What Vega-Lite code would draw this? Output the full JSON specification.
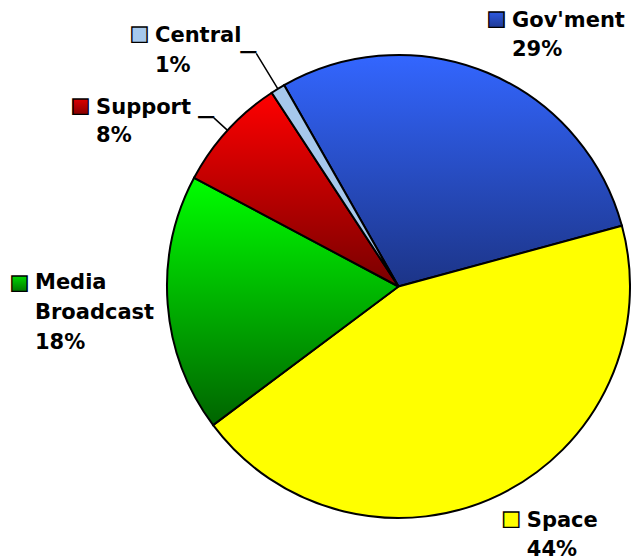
{
  "$schema": "https://vega.github.io/schema/vega-lite/v6.json",
  "width": 463,
  "height": 463,
  "autosize": {"type": "none"},
  "padding": {"left": 167, "top": 55, "right": 1, "bottom": 42},
  "background": "white",
  "config": {"view": {"stroke": null}},
  "data": {
    "values": [
      {"cat": "Gov'ment", "pct": 29, "label": "Gov'ment\n29%", "k": 1},
      {"cat": "Space", "pct": 44, "label": "Space\n44%", "k": 2},
      {"cat": "Media Broadcast", "pct": 18, "label": "Media\nBroadcast\n18%", "k": 3},
      {"cat": "Support", "pct": 8, "label": "Support\n8%", "k": 4},
      {"cat": "Central", "pct": 1, "label": "Central\n1%", "k": 5}
    ]
  },
  "encoding": {
    "theta": {"field": "pct", "type": "quantitative", "stack": true, "scale": {"range": [-0.5166, 5.7666]}},
    "order": {"field": "k", "type": "quantitative", "sort": "ascending"},
    "detail": {"field": "cat", "type": "nominal"}
  },
  "layer": [
    {
      "mark": {"type": "arc", "stroke": "black", "strokeWidth": 2},
      "encoding": {
        "color": {
          "condition": [
            {"test": "datum.k === 1", "value": {"gradient": "linear", "x1": 0, "y1": 0, "x2": 0, "y2": 1, "stops": [{"offset": 0, "color": "#3366ff"}, {"offset": 1, "color": "#1c3487"}]}},
            {"test": "datum.k === 2", "value": "#ffff00"},
            {"test": "datum.k === 3", "value": {"gradient": "linear", "x1": 0, "y1": 0, "x2": 0, "y2": 1, "stops": [{"offset": 0, "color": "#00ff00"}, {"offset": 1, "color": "#006400"}]}},
            {"test": "datum.k === 4", "value": {"gradient": "linear", "x1": 0, "y1": 0, "x2": 0, "y2": 1, "stops": [{"offset": 0, "color": "#ff0000"}, {"offset": 1, "color": "#780000"}]}}
          ],
          "value": "#a6c8ec"
        }
      }
    },
    {
      "mark": {"type": "arc", "radius": 273, "radius2": 231.5, "padAngle": 1.2, "fillOpacity": 0, "stroke": "black", "strokeWidth": 1.5},
      "encoding": {"strokeOpacity": {"condition": {"test": "datum.k === 5", "value": 1}, "value": 0}}
    },
    {
      "mark": {"type": "arc", "radius": 250, "radius2": 231.5, "padAngle": 1.2, "fillOpacity": 0, "stroke": "black", "strokeWidth": 1.5},
      "encoding": {"strokeOpacity": {"condition": {"test": "datum.k === 4", "value": 1}, "value": 0}}
    },
    {
      "mark": {"type": "text", "radius": 273, "align": "right", "baseline": "middle", "font": "DejaVu Sans Mono", "fontSize": 26, "color": "black"},
      "encoding": {"text": {"condition": {"test": "datum.k === 5", "value": "─"}, "value": ""}}
    },
    {
      "mark": {"type": "text", "radius": 250, "align": "right", "baseline": "middle", "font": "DejaVu Sans Mono", "fontSize": 26, "color": "black"},
      "encoding": {"text": {"condition": {"test": "datum.k === 4", "value": "─"}, "value": ""}}
    },
    {
      "mark": {"type": "text", "radius": 231.5, "dx": 24.5, "dy": -45.8, "align": "left", "baseline": "alphabetic", "font": "DejaVu Sans", "fontWeight": "bold", "fontSize": 21, "lineHeight": 29, "lineBreak": "\n", "color": "black"},
      "encoding": {"text": {"condition": {"test": "datum.k === 1", "field": "label", "type": "nominal"}, "value": ""}}
    },
    {
      "mark": {"type": "text", "radius": 231.5, "dx": 26.8, "dy": 32.1, "align": "left", "baseline": "alphabetic", "font": "DejaVu Sans", "fontWeight": "bold", "fontSize": 21, "lineHeight": 29, "lineBreak": "\n", "color": "black"},
      "encoding": {"text": {"condition": {"test": "datum.k === 2", "field": "label", "type": "nominal"}, "value": ""}}
    },
    {
      "mark": {"type": "text", "radius": 231.5, "dx": -132.7, "dy": -15.3, "align": "left", "baseline": "alphabetic", "font": "DejaVu Sans", "fontWeight": "bold", "fontSize": 21, "lineHeight": 30, "lineBreak": "\n", "color": "black"},
      "encoding": {"text": {"condition": {"test": "datum.k === 3", "field": "label", "type": "nominal"}, "value": ""}}
    },
    {
      "mark": {"type": "text", "radius": 231.5, "dx": -131.5, "dy": -16.5, "align": "left", "baseline": "alphabetic", "font": "DejaVu Sans", "fontWeight": "bold", "fontSize": 21, "lineHeight": 28, "lineBreak": "\n", "color": "black"},
      "encoding": {"text": {"condition": {"test": "datum.k === 4", "field": "label", "type": "nominal"}, "value": ""}}
    },
    {
      "mark": {"type": "text", "radius": 231.5, "dx": -122.9, "dy": -46.9, "align": "left", "baseline": "alphabetic", "font": "DejaVu Sans", "fontWeight": "bold", "fontSize": 21, "lineHeight": 30, "lineBreak": "\n", "color": "black"},
      "encoding": {"text": {"condition": {"test": "datum.k === 5", "field": "label", "type": "nominal"}, "value": ""}}
    },
    {
      "mark": {"type": "text", "radius": 231.5, "dx": 9, "dy": -53.8, "align": "center", "baseline": "middle", "font": "DejaVu Sans", "fontSize": 20, "stroke": "black", "strokeWidth": 1.4, "fill": {"gradient": "linear", "x1": 0, "y1": 0, "x2": 0, "y2": 1, "stops": [{"offset": 0, "color": "#3366ff"}, {"offset": 1, "color": "#1c3487"}]}},
      "encoding": {"text": {"condition": {"test": "datum.k === 1", "value": "■"}, "value": ""}}
    },
    {
      "mark": {"type": "text", "radius": 231.5, "dx": 11.3, "dy": 24.1, "align": "center", "baseline": "middle", "font": "DejaVu Sans", "fontSize": 20, "stroke": "black", "strokeWidth": 1.4, "fill": "#ffff00"},
      "encoding": {"text": {"condition": {"test": "datum.k === 2", "value": "■"}, "value": ""}}
    },
    {
      "mark": {"type": "text", "radius": 231.5, "dx": -148.2, "dy": -21.3, "align": "center", "baseline": "middle", "font": "DejaVu Sans", "fontSize": 20, "stroke": "black", "strokeWidth": 1.4, "fill": {"gradient": "linear", "x1": 0, "y1": 0, "x2": 0, "y2": 1, "stops": [{"offset": 0, "color": "#00ff00"}, {"offset": 1, "color": "#006400"}]}},
      "encoding": {"text": {"condition": {"test": "datum.k === 3", "value": "■"}, "value": ""}}
    },
    {
      "mark": {"type": "text", "radius": 231.5, "dx": -147, "dy": -24.5, "align": "center", "baseline": "middle", "font": "DejaVu Sans", "fontSize": 20, "stroke": "black", "strokeWidth": 1.4, "fill": {"gradient": "linear", "x1": 0, "y1": 0, "x2": 0, "y2": 1, "stops": [{"offset": 0, "color": "#ff0000"}, {"offset": 1, "color": "#780000"}]}},
      "encoding": {"text": {"condition": {"test": "datum.k === 4", "value": "■"}, "value": ""}}
    },
    {
      "mark": {"type": "text", "radius": 231.5, "dx": -138.4, "dy": -54.9, "align": "center", "baseline": "middle", "font": "DejaVu Sans", "fontSize": 20, "stroke": "black", "strokeWidth": 1.4, "fill": "#a6c8ec"},
      "encoding": {"text": {"condition": {"test": "datum.k === 5", "value": "■"}, "value": ""}}
    }
  ]
}
